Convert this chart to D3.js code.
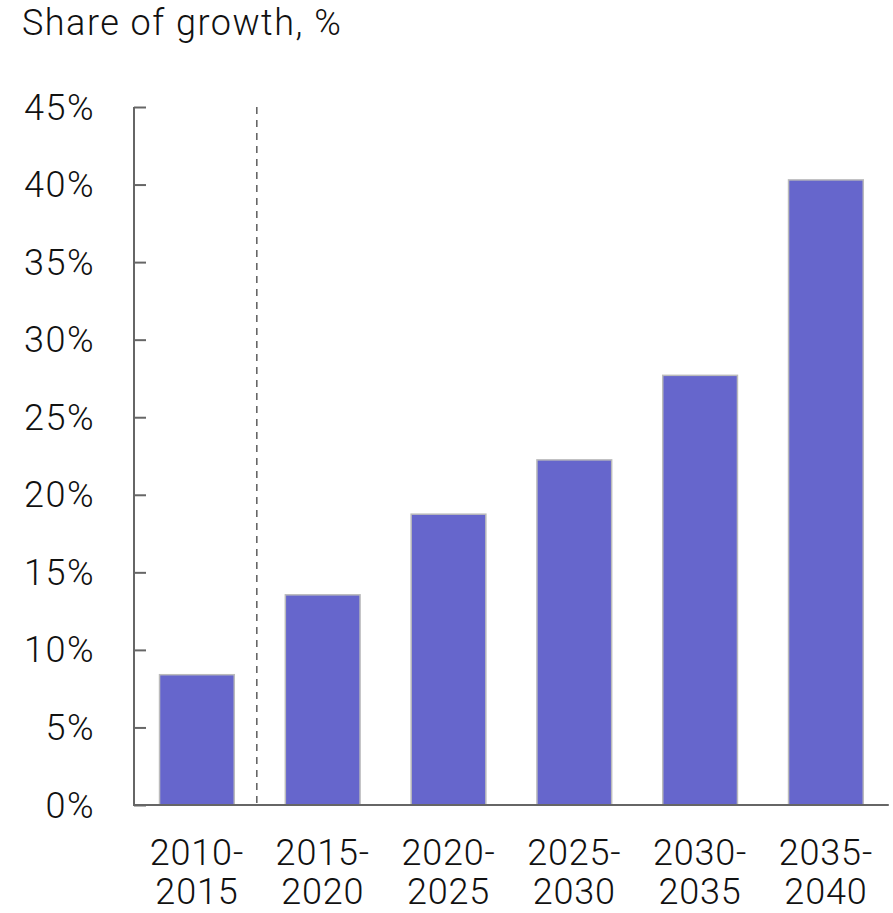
<!DOCTYPE html>
<html>
<head>
<meta charset="utf-8">
<script src="https://cdn.jsdelivr.net/npm/d3@7"></script>
<style>
  html, body { margin: 0; padding: 0; background: #fff; }
  svg { display: block; }
  text { font-family: Roboto, "Liberation Sans", Arial, sans-serif; font-weight: 300; fill: #111; }
</style>
</head>
<body>
<svg id="chart" width="893" height="913"></svg>
<script>
const categories = [["2010-", "2015"], ["2015-", "2020"], ["2020-", "2025"], ["2025-", "2030"], ["2030-", "2035"], ["2035-", "2040"]];
const values = [8.4, 13.55, 18.75, 22.25, 27.7, 40.3];
const yTicks = [0, 5, 10, 15, 20, 25, 30, 35, 40, 45];
const title = "Share of growth, %";

(function () {
const svg = d3.select("#chart");
const mLeft = 134, mRight = 888.8, mTop = 107, mBottom = 805;
const fs = 36;

const x = d3.scaleBand()
  .domain(categories.map((d, i) => i))
  .range([mLeft, mRight])
  .paddingInner(0.406)
  .paddingOuter(0.203);

const y = d3.scaleLinear().domain([0, 45]).range([mBottom, mTop]);

// title
svg.append("text")
  .attr("x", 22).attr("y", 35)
  .attr("font-size", fs)
  .attr("letter-spacing", 1.5)
  .text(title);

// bars
svg.append("g").selectAll("rect")
  .data(values)
  .join("rect")
  .attr("x", (d, i) => x(i))
  .attr("width", x.bandwidth())
  .attr("y", d => y(d))
  .attr("height", d => y(0) - y(d))
  .attr("fill", "#6666CC")
  .attr("stroke", "#BBBBBB")
  .attr("stroke-width", 1.5);

// dashed separator between first and second category
const sepX = (x(0) + x.bandwidth() + x(1)) / 2 - 3;
svg.append("line")
  .attr("x1", sepX).attr("x2", sepX)
  .attr("y1", y(45)).attr("y2", y(0))
  .attr("stroke", "#666")
  .attr("stroke-width", 1.6)
  .attr("stroke-dasharray", "7,6");

// y axis
const yAxis = d3.axisRight(y)
  .tickValues(yTicks)
  .tickSize(12)
  .tickFormat("");
const ga = svg.append("g").attr("transform", `translate(${mLeft},0)`).call(yAxis);
ga.select(".domain").remove();
ga.selectAll(".tick line").attr("stroke", "#666").attr("stroke-width", 2);
svg.append("line")
  .attr("x1", mLeft).attr("x2", mLeft)
  .attr("y1", y(45)).attr("y2", y(0))
  .attr("stroke", "#666").attr("stroke-width", 2);

// y labels
svg.append("g").selectAll("text")
  .data(yTicks)
  .join("text")
  .attr("x", 95)
  .attr("y", d => y(d) + 12.5)
  .attr("text-anchor", "end")
  .attr("font-size", fs)
  .attr("letter-spacing", 1.5)
  .text(d => d + "%");

// x axis baseline
svg.append("line")
  .attr("x1", mLeft - 1).attr("x2", mRight)
  .attr("y1", y(0)).attr("y2", y(0))
  .attr("stroke", "#666").attr("stroke-width", 2);

// x labels
const xl = svg.append("g").selectAll("text")
  .data(categories)
  .join("text")
  .attr("text-anchor", "middle")
  .attr("font-size", fs)
  .attr("letter-spacing", 0.8)
  .attr("transform", (d, i) => `translate(${x(i) + x.bandwidth() / 2},0)`);
xl.append("tspan").attr("x", 0).attr("y", 865).text(d => d[0]);
xl.append("tspan").attr("x", 0).attr("y", 904).text(d => d[1]);
})();
</script>
</body>
</html>
